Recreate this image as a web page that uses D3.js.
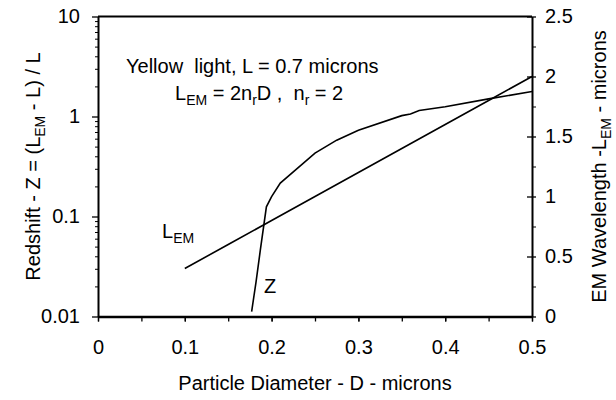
<!DOCTYPE html>
<html>
<head>
<meta charset="utf-8">
<script src="https://cdn.jsdelivr.net/npm/d3@7"></script>
<style>
  body { margin: 0; background: #fff; }
  svg text { font-family: Arial, "Liberation Sans", sans-serif; fill: #000; }
</style>
</head>
<body>
<div id="chart"></div>
<script>
// data
var lemD = [0.1, 0.15, 0.2, 0.25, 0.3, 0.35, 0.4, 0.45, 0.5]
var lemValues = [0.4, 0.6, 0.8, 1.0, 1.2, 1.4, 1.6, 1.8, 2.0]
var zD = [0.177, 0.182, 0.187, 0.194, 0.2, 0.21, 0.25, 0.275, 0.3, 0.35, 0.36, 0.37, 0.4, 0.45, 0.5]
var zValues = [0.0112, 0.022, 0.046, 0.125, 0.158, 0.216, 0.43, 0.58, 0.73, 1.02, 1.06, 1.15, 1.25, 1.5, 1.78]
var xTicks = [0, 0.1, 0.2, 0.3, 0.4, 0.5]
var leftTicks = [0.01, 0.1, 1, 10]
var rightTicks = [0, 0.5, 1, 1.5, 2, 2.5]

var width = 616, height = 400
var margin = { top: 16.5, right: 84, bottom: 83.5, left: 98 }

var svg = d3.select("#chart")
  .append("svg")
  .attr("width", width)
  .attr("height", height)

var x = d3.scaleLinear()
  .domain([0, 0.5])
  .range([margin.left, width - margin.right])

var yLeft = d3.scaleLog()
  .domain([0.01, 10])
  .range([height - margin.bottom, margin.top])

var yRight = d3.scaleLinear()
  .domain([0, 2.5])
  .range([height - margin.bottom, margin.top])

var fontSize = '20px'
var subSize = '14px'
var fontFamily = "Arial, 'Liberation Sans', sans-serif"

// top border
svg.append("line")
  .attr("x1", x(0)).attr("x2", x(0.5))
  .attr("y1", margin.top).attr("y2", margin.top)
  .style("stroke", "black")
  .style("stroke-width", 2)

// X axis, minor ticks
svg.append("g")
  .attr("transform", `translate(0,${height - margin.bottom})`)
  .call(d3.axisBottom(x).tickValues(d3.range(0, 0.5001, 0.05)).tickSize(5).tickFormat(""))
  .call(g => g.select(".domain").remove())
  .selectAll("line").style("stroke-width", 1.3)

var xAxis = svg.append("g")
  .attr("transform", `translate(0,${height - margin.bottom})`)
  .call(d3.axisBottom(x).tickValues(xTicks).tickSize(5).tickSizeOuter(0).tickPadding(18).tickFormat(d3.format("")))
xAxis.select(".domain").style("stroke-width", 2.5)
xAxis.selectAll("line").style("stroke-width", 1.3)
xAxis.selectAll("text").style("font-size", fontSize).style("font-family", fontFamily)

// left log axis
var minorLog = []
leftTicks.slice(0, 3).forEach(function(t) {
  for (var k = 2; k <= 9; k++) minorLog.push(t * k)
})
svg.append("g")
  .attr("transform", `translate(${margin.left},0)`)
  .call(d3.axisLeft(yLeft).tickValues(minorLog).tickSize(3).tickFormat(""))
  .call(g => g.select(".domain").remove())
  .selectAll("line").style("stroke-width", 1)

var leftAxis = svg.append("g")
  .attr("transform", `translate(${margin.left},0)`)
  .call(d3.axisLeft(yLeft).tickValues(leftTicks).tickSize(6).tickSizeOuter(0).tickPadding(12).tickFormat(d3.format("")))
leftAxis.select(".domain").style("stroke-width", 2)
leftAxis.selectAll("line").style("stroke-width", 1.3)
leftAxis.selectAll("text").style("font-size", fontSize).style("font-family", fontFamily)

// right axis
svg.append("g")
  .attr("transform", `translate(${width - margin.right},0)`)
  .call(d3.axisRight(yRight).tickValues(d3.range(0.25, 2.5, 0.5)).tickSize(4).tickFormat(""))
  .call(g => g.select(".domain").remove())
  .selectAll("line").style("stroke-width", 1)

var rightAxis = svg.append("g")
  .attr("transform", `translate(${width - margin.right},0)`)
  .call(d3.axisRight(yRight).tickValues(rightTicks).tickSize(4).tickSizeOuter(0).tickPadding(9).tickFormat(d3.format("")))
rightAxis.select(".domain").style("stroke-width", 2)
rightAxis.selectAll(".tick line").attr("x1", -5).style("stroke-width", 1.3)
rightAxis.selectAll("text").style("font-size", fontSize).style("font-family", fontFamily)

// lines
var lemLine = d3.line()
  .x(function(d, i) { return x(lemD[i]) })
  .y(function(d) { return yRight(d) })

svg.append("path")
  .datum(lemValues)
  .attr("d", lemLine)
  .style("fill", "none")
  .style("stroke", "black")
  .style("stroke-width", 1.6)

var zLine = d3.line()
  .x(function(d, i) { return x(zD[i]) })
  .y(function(d) { return yLeft(d) })

svg.append("path")
  .datum(zValues)
  .attr("d", zLine)
  .style("fill", "none")
  .style("stroke", "black")
  .style("stroke-width", 1.6)

// annotation text
svg.append("text")
  .attr("x", 126)
  .attr("y", 73)
  .style("font-size", fontSize)
  .attr("xml:space", "preserve")
  .text("Yellow  light, L = 0.7 microns")

var eq = svg.append("text")
  .attr("x", 175)
  .attr("y", 100)
  .style("font-size", fontSize)
  .attr("xml:space", "preserve")
eq.append("tspan").text("L")
eq.append("tspan").attr("dy", 5).style("font-size", subSize).text("EM")
eq.append("tspan").attr("dy", -5).text(" = 2n")
eq.append("tspan").attr("dy", 5).style("font-size", subSize).text("r")
eq.append("tspan").attr("dy", -5).text("D ,  n")
eq.append("tspan").attr("dy", 5).style("font-size", subSize).text("r")
eq.append("tspan").attr("dy", -5).text(" = 2")

var lemLabel = svg.append("text")
  .attr("x", 162)
  .attr("y", 238)
  .style("font-size", fontSize)
lemLabel.append("tspan").text("L")
lemLabel.append("tspan").attr("dy", 5).style("font-size", subSize).text("EM")

svg.append("text")
  .attr("x", 264)
  .attr("y", 293)
  .style("font-size", fontSize)
  .text("Z")

// axis titles
svg.append("text")
  .attr("x", x(0.25))
  .attr("y", 390)
  .attr("text-anchor", "middle")
  .style("font-size", fontSize)
  .text("Particle Diameter - D - microns")

var leftTitle = svg.append("text")
  .attr("transform", `translate(40,${(margin.top + height - margin.bottom) / 2}) rotate(-90)`)
  .attr("text-anchor", "middle")
  .style("font-size", fontSize)
leftTitle.append("tspan").text("Redshift - Z = (L")
leftTitle.append("tspan").attr("dy", 5).style("font-size", subSize).text("EM")
leftTitle.append("tspan").attr("dy", -5).text(" - L) / L")

var rightTitle = svg.append("text")
  .attr("transform", `translate(606,${(margin.top + height - margin.bottom) / 2}) rotate(-90)`)
  .attr("text-anchor", "middle")
  .style("font-size", fontSize)
rightTitle.append("tspan").text("EM Wavelength -L")
rightTitle.append("tspan").attr("dy", 5).style("font-size", subSize).text("EM")
rightTitle.append("tspan").attr("dy", -5).text(" - microns")
</script>
</body>
</html>
